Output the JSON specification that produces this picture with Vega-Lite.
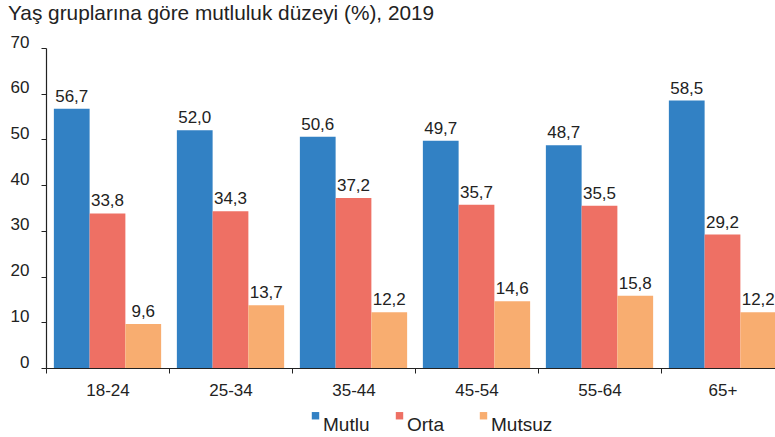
{
  "$schema": "https://vega.github.io/schema/vega-lite/v6.json",
  "autosize": {"type": "none"},
  "width": 738,
  "height": 320,
  "padding": {"left": 46, "top": 48, "right": 0, "bottom": 69},
  "title": {"text": "Yaş gruplarına göre mutluluk düzeyi (%), 2019", "anchor": "start", "frame": "group", "dx": -38, "offset": 8, "fontSize": 20.8, "fontWeight": "normal", "font": "Liberation Sans", "color": "#222222"},
  "config": {
    "view": {"stroke": null},
    "locale": {"number": {"decimal": ",", "thousands": ".", "grouping": [3], "currency": ["", " TL"]}},
    "font": "Liberation Sans"
  },
  "data": {"values": [
    {"grup": "18-24", "duzey": "Mutlu", "deger": 56.7},
    {"grup": "18-24", "duzey": "Orta", "deger": 33.8},
    {"grup": "18-24", "duzey": "Mutsuz", "deger": 9.6},
    {"grup": "25-34", "duzey": "Mutlu", "deger": 52.0},
    {"grup": "25-34", "duzey": "Orta", "deger": 34.3},
    {"grup": "25-34", "duzey": "Mutsuz", "deger": 13.7},
    {"grup": "35-44", "duzey": "Mutlu", "deger": 50.6},
    {"grup": "35-44", "duzey": "Orta", "deger": 37.2},
    {"grup": "35-44", "duzey": "Mutsuz", "deger": 12.2},
    {"grup": "45-54", "duzey": "Mutlu", "deger": 49.7},
    {"grup": "45-54", "duzey": "Orta", "deger": 35.7},
    {"grup": "45-54", "duzey": "Mutsuz", "deger": 14.6},
    {"grup": "55-64", "duzey": "Mutlu", "deger": 48.7},
    {"grup": "55-64", "duzey": "Orta", "deger": 35.5},
    {"grup": "55-64", "duzey": "Mutsuz", "deger": 15.8},
    {"grup": "65+", "duzey": "Mutlu", "deger": 58.5},
    {"grup": "65+", "duzey": "Orta", "deger": 29.2},
    {"grup": "65+", "duzey": "Mutsuz", "deger": 12.2}
  ]},
  "encoding": {
    "x": {"field": "grup", "type": "nominal", "sort": null,
      "scale": {"paddingInner": 0, "paddingOuter": 0},
      "axis": {"title": null, "labelAngle": 0, "tickBand": "extent", "domainColor": "#222222", "tickColor": "#222222", "tickSize": 5, "labelFontSize": 17, "labelColor": "#222222", "labelPadding": 9, "domainWidth": 1.2}},
    "xOffset": {"field": "duzey", "type": "nominal", "sort": ["Mutlu", "Orta", "Mutsuz"], "scale": {"paddingInner": 0, "paddingOuter": 0.22}},
    "y": {"field": "deger", "type": "quantitative",
      "scale": {"domain": [0, 70], "nice": false},
      "axis": {"title": null, "values": [0, 10, 20, 30, 40, 50, 60, 70], "grid": false, "domainColor": "#222222", "tickColor": "#222222", "tickSize": 5, "labelFontSize": 17, "labelColor": "#222222", "labelPadding": 12, "labelOffset": -6, "domainWidth": 1.2}}
  },
  "layer": [
    {
      "mark": {"type": "bar"},
      "encoding": {
        "color": {"field": "duzey", "type": "nominal", "sort": ["Mutlu", "Orta", "Mutsuz"],
          "scale": {"domain": ["Mutlu", "Orta", "Mutsuz"], "range": ["#3281c4", "#ee7064", "#f8ad70"]},
          "legend": {"title": null, "orient": "none", "direction": "horizontal", "legendX": 260, "legendY": 358, "symbolType": "square", "symbolSize": 55, "symbolStrokeWidth": 0, "labelFontSize": 19, "labelColor": "#222222", "labelBaseline": "top", "labelOffset": -2, "gridAlign": "all", "columnPadding": 5}}
      }
    },
    {
      "mark": {"type": "text", "baseline": "bottom", "dy": -3, "fontSize": 17, "color": "#222222"},
      "encoding": {"text": {"field": "deger", "type": "quantitative", "format": ".1f"}}
    }
  ]
}
